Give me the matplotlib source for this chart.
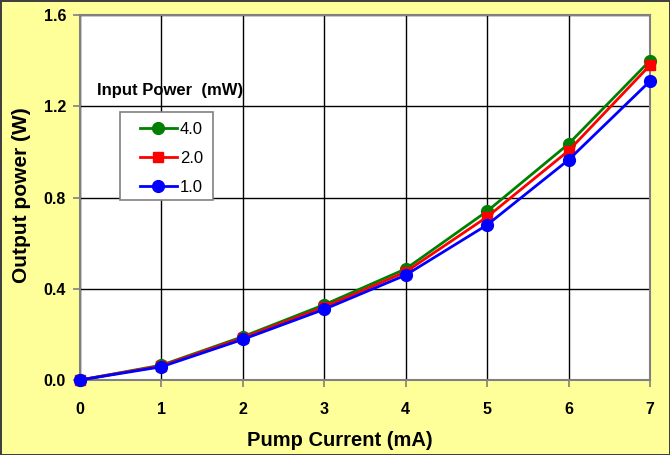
import matplotlib
matplotlib.use("Agg")
import matplotlib.pyplot as plt
from matplotlib.patches import Rectangle

plt.rcParams['font.family'] = ['Liberation Sans', 'DejaVu Sans']

# Pump current (mA)
current = [0, 1, 2, 3, 4, 5, 6, 7]
# Output power (W) for each input power
p_4mw = [0.0, 0.065, 0.19, 0.33, 0.487, 0.74, 1.035, 1.40]
p_2mw = [0.0, 0.062, 0.185, 0.32, 0.474, 0.715, 1.005, 1.38]
p_1mw = [0.0, 0.058, 0.178, 0.31, 0.46, 0.68, 0.965, 1.31]

fig = plt.figure(figsize=(6.7, 4.55), dpi=100, facecolor='#FFFF99',
                 edgecolor='#404040', linewidth=2)
ax = fig.add_axes([80/670, 1-380/455, 570/670, 365/455])
ax.set_facecolor('white')

ax.plot(current, p_4mw, color='green', marker='o', markersize=8.5, lw=2, label='4.0', clip_on=False, zorder=3)
ax.plot(current, p_2mw, color='red', marker='s', markersize=7.5, lw=2, label='2.0', clip_on=False, zorder=4)
ax.plot(current, p_1mw, color='blue', marker='o', markersize=8.5, lw=2, label='1.0', clip_on=False, zorder=5)

ax.set_xlim(0, 7)
ax.set_ylim(0, 1.6)
ax.set_xticks(current)
ax.set_yticks([0, 0.4, 0.8, 1.2, 1.6])
ax.set_yticklabels(['0.0', '0.4', '0.8', '1.2', '1.6'])
ax.grid(True, color='black', lw=1)
ax.set_axisbelow(True)
for s in ax.spines.values():
    s.set_color('#808080')
    s.set_linewidth(1.5)
ax.tick_params(direction='out', length=5, color='#808080', width=1.2,
               labelsize=11.5)
ax.tick_params(axis='x', pad=11)
ax.tick_params(axis='y', pad=5)
for lab in ax.get_xticklabels() + ax.get_yticklabels():
    lab.set_fontweight('bold')

fig.text(340/670, 1-440/455, 'Pump Current (mA)', fontsize=14.5,
         fontweight='bold', ha='center', va='center')
fig.text(22/670, 1-195/455, 'Output power (W)', fontsize=15,
         fontweight='bold', ha='center', va='center', rotation=90)

ax.text(17/570, 1-75/365, 'Input Power  (mW)', transform=ax.transAxes,
        fontsize=12, fontweight='bold', va='center', ha='left')

# legend box drawn separately so its padding matches
ax.add_patch(Rectangle((40/570, 1-185/365), 93/570, 88/365, transform=ax.transAxes,
                       facecolor='white', edgecolor='#808080', lw=1.2, zorder=6))
leg = ax.legend(loc='upper left', bbox_to_anchor=(60/570, 1-107/365),
                borderaxespad=0, borderpad=0, fontsize=12, frameon=False,
                handlelength=2.2, handletextpad=0.2, labelspacing=0.85)
leg.set_zorder(7)

fig.savefig('out.png', dpi=100, facecolor=fig.get_facecolor(), edgecolor=fig.get_edgecolor())
